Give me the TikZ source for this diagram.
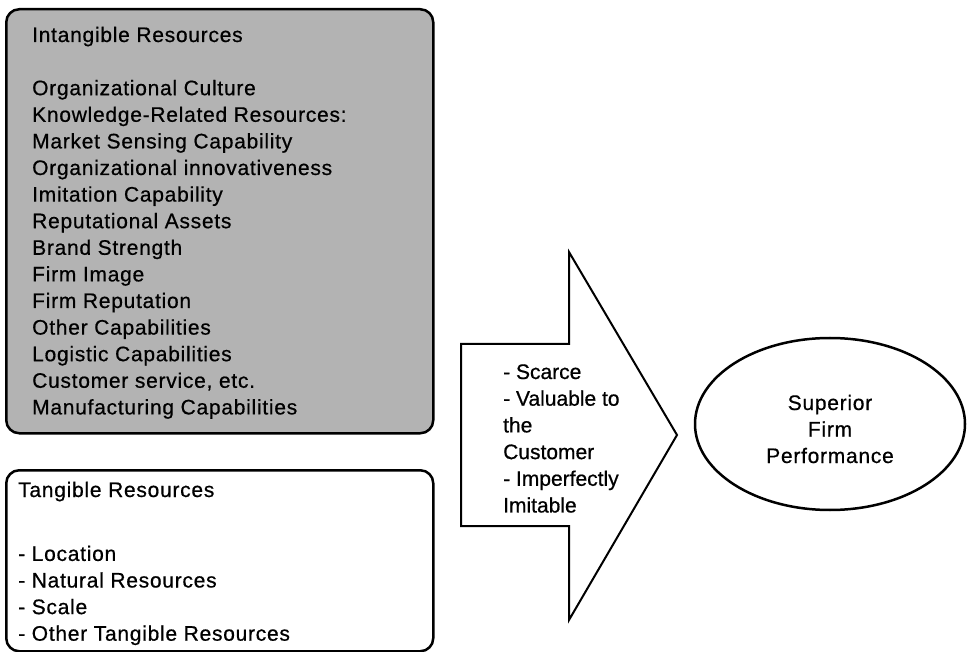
\documentclass[tikz,border=0pt]{standalone}
\usepackage{fontspec}
\setmainfont{Liberation Sans}[UprightFeatures={FakeBold=0.6}]
\newfontfamily\trk{Liberation Sans}[LetterSpace=3.5, UprightFeatures={FakeBold=0.6}]
\usetikzlibrary{shapes.geometric}
\definecolor{boxgray}{RGB}{179,179,179}
\tikzset{
  resbox/.style={draw=black, line width=2.5pt, rounded corners=13pt, anchor=north west, inner sep=0pt},
  boxtext/.style={anchor=base west, inner sep=0pt, font=\trk\fontsize{21}{26.6}\selectfont},
  arrowtext/.style={anchor=base west, inner sep=0pt, font=\fontsize{21}{26.7}\selectfont},
  perfshape/.style={draw=black, line width=2.5pt, ellipse, inner sep=0pt},
}
\begin{document}
\begin{tikzpicture}[x=1pt, y=-1pt]
\useasboundingbox (0,0) rectangle (967,652);
% intangible resources box
\node[resbox, fill=boxgray, minimum width=427pt, minimum height=424pt] (intang) at (5,8) {};
\node[boxtext] (intangtext) at (32,42) {\parbox[t]{390pt}{\raggedright
Intangible Resources\\[26.6pt]
Organizational Culture\\
Knowledge-Related Resources:\\
Market Sensing Capability\\
Organizational innovativeness\\
Imitation Capability\\
Reputational Assets\\
Brand Strength\\
Firm Image\\
Firm Reputation\\
Other Capabilities\\
Logistic Capabilities\\
Customer service, etc.\\
Manufacturing Capabilities}};
% tangible resources box
\node[resbox, fill=white, minimum width=427pt, minimum height=181pt] (tang) at (5,469) {};
\node[boxtext] (tangtext) at (18,497) {\parbox[t]{390pt}{\raggedright
Tangible Resources\\[37.3pt]
- Location\\
- Natural Resources\\
- Scale\\
- Other Tangible Resources}};
% block arrow
\draw[line width=2pt, line join=miter, fill=white] (461,344) -- (569,344) -- (569,252) -- (677,435) -- (569,620) -- (569,526) -- (461,526) -- cycle;
\node[arrowtext] (arrowlabel) at (503,379) {\parbox[t]{130pt}{\raggedright
- Scarce\\
- Valuable to\\
the\\
Customer\\
- Imperfectly\\
Imitable}};
% outcome
\node[perfshape, minimum width=270pt, minimum height=172pt] (perf) at (830,424) {};
\node[anchor=base, inner sep=0pt, font=\trk\fontsize{21}{26.5}\selectfont] (perftext) at (830,410) {\parbox[t]{160pt}{\centering
Superior\\
Firm\\
Performance}};
\end{tikzpicture}
\end{document}
